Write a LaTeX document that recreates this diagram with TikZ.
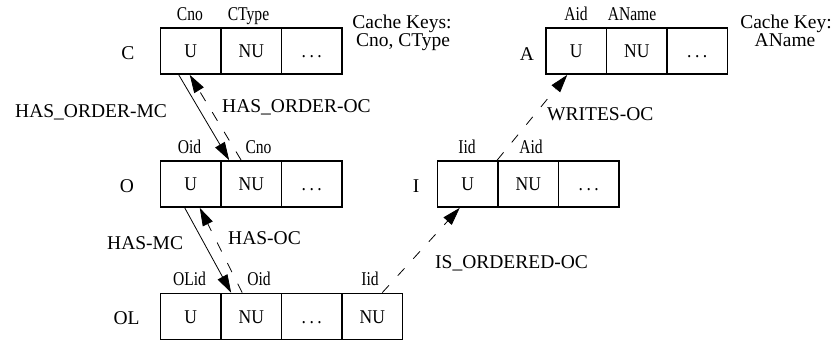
\documentclass[tikz,border=0pt]{standalone}
\usepackage{fontspec}
\setmainfont{Liberation Serif}
\newfontfamily\colfnt[FakeStretch=0.8]{Liberation Serif}
\newfontfamily\cellfnt[FakeStretch=0.9]{Liberation Serif}
\usetikzlibrary{arrows.meta}
\newcommand\bigtxt{\fontsize{19.5pt}{18pt}\selectfont}
\newcommand\mydots{.\hspace{3.5pt}.\hspace{3.5pt}.}
\begin{document}
\begin{tikzpicture}[x=1pt,y=-1pt,
  cell/.style={draw, line width=1.7pt, minimum width=60.5pt, minimum height=46pt,
    inner sep=0pt, font=\cellfnt\bigtxt, text height=13pt, text depth=0pt},
  rowlab/.style={font=\bigtxt, anchor=base, inner sep=0pt},
  collab/.style={font=\colfnt\bigtxt, anchor=base, inner sep=0pt},
  lab/.style={font=\bigtxt, anchor=base west, inner sep=0pt},
  rel/.style={line width=0.8pt, -{Triangle[length=18pt,width=11pt]}},
  relo/.style={rel, dash pattern=on 10pt off 13pt}]
\useasboundingbox (0,0) rectangle (837,343);

% C
\node[cell] (c1) at (190.75,51) {U};
\node[cell] (c2) at (251.25,51) {NU};
\node[cell] (c3) at (311.75,51) {\mydots};
\node[rowlab] (cl) at (128,59) {C};
\node[collab] (cc1) at (190,20) {Cno};
\node[collab] (cc2) at (248.5,20) {CType};
\node[font=\bigtxt, anchor=base, inner sep=0pt] (ck1) at (402,28) {Cache Keys:};
\node[font=\bigtxt, anchor=base, inner sep=0pt] (ck2) at (403,46) {Cno, CType};

% A
\node[cell] (a1) at (576.25,51) {U};
\node[cell] (a2) at (636.75,51) {NU};
\node[cell] (a3) at (697.25,51) {\mydots};
\node[rowlab] (al) at (527,60) {A};
\node[collab] (ac1) at (576,20) {Aid};
\node[collab] (ac2) at (632,20) {AName};
\node[font=\bigtxt, anchor=base, inner sep=0pt] (ak1) at (786,28) {Cache Key:};
\node[font=\bigtxt, anchor=base, inner sep=0pt] (ak2) at (785,46) {AName};

% O
\node[cell] (o1) at (190.75,184) {U};
\node[cell] (o2) at (251.25,184) {NU};
\node[cell] (o3) at (311.75,184) {\mydots};
\node[rowlab] (ol) at (127,192) {O};
\node[collab] (oc1) at (189.5,153) {Oid};
\node[collab] (oc2) at (258.5,153) {Cno};

% I
\node[cell] (i1) at (467.75,184) {U};
\node[cell] (i2) at (528.25,184) {NU};
\node[cell] (i3) at (588.75,184) {\mydots};
\node[rowlab] (il) at (416,192) {I};
\node[collab] (ic1) at (467,153) {Iid};
\node[collab] (ic2) at (531,153) {Aid};

% OL
\node[cell] (l1) at (190.75,316.5) {U};
\node[cell] (l2) at (251.25,316.5) {NU};
\node[cell] (l3) at (311.75,316.5) {\mydots};
\node[cell] (l4) at (372.25,316.5) {NU};
\node[rowlab] (lll) at (126.5,324) {OL};
\node[collab] (lc1) at (189.5,285) {OLid};
\node[collab] (lc2) at (259,285) {Oid};
\node[collab] (lc4) at (370,285) {Iid};

% relationships
\draw[rel]  ([xshift=-12pt]c1.south) -- ([xshift=9pt]o2.north west);
\draw[relo] ([xshift=21pt]o2.north west) -- ([xshift=-1pt]c1.south);
\draw[rel]  ([xshift=-6pt]o1.south) -- ([xshift=11pt]l2.north west);
\draw[relo] ([xshift=22pt]l2.north west) -- ([xshift=9pt]o1.south);
\draw[relo] (i2.north west) -- ([xshift=-9pt]a1.south);
\draw[relo] ([xshift=10pt]l4.north) -- ([xshift=-8pt]i1.south);

% labels
\node[lab] (t1) at (15,117) {HAS\_ORDER-MC};
\node[lab] (t2) at (222,112) {HAS\_ORDER-OC};
\node[lab] (t3) at (107,249) {HAS-MC};
\node[lab] (t4) at (228,244) {HAS-OC};
\node[lab] (t5) at (547,120) {WRITES-OC};
\node[lab] (t6) at (435,268) {IS\_ORDERED-OC};
\end{tikzpicture}
\end{document}
